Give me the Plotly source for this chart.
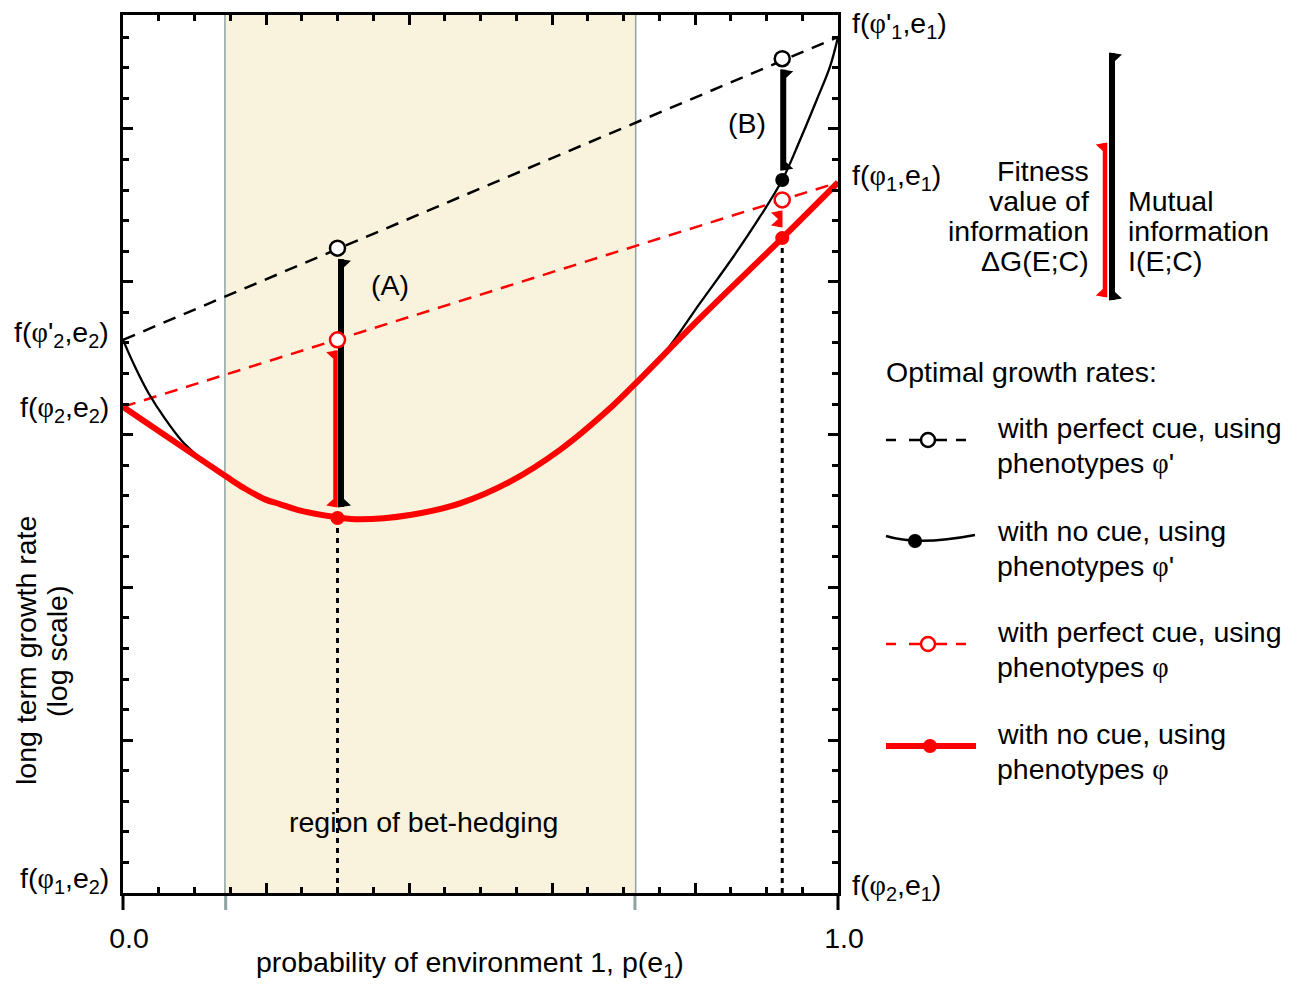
import plotly.graph_objects as go

# The page body has an 8 px margin, so the figure is drawn 8 px in from the window corner.
OFF = 8
WIN_W, WIN_H = 1299, 989
FIG_W, FIG_H = WIN_W - 2 * OFF, WIN_H - 2 * OFF
FONT = "Liberation Sans"
FS = 28.5
RED = "#ff0000"
BLACK = "#000000"
SHADE = "#f9f2dc"
GREY = "#8fa3a3"
PHI = "<span style=\"font-family:Liberation Serif\">φ</span>"

# ---------------- data ----------------
# optimal growth, no cue, phenotypes φ (thick red)
p_nocue_phi = [0.0, 0.0587, 0.1448, 0.17, 0.1986, 0.22, 0.2452, 0.3011, 0.3315, 0.4014, 0.4713,
               0.5413, 0.6112, 0.6811, 0.7137, 0.807, 0.922, 1.0]
g_nocue_phi = [15.91, 14.98, 13.62, 13.24, 12.88, 12.72, 12.53, 12.29, 12.23, 12.37, 12.75,
               13.46, 14.50, 15.86, 16.60, 18.81, 21.43, 23.25]
# optimal growth, no cue, phenotypes φ' (thin black)
p_nocue_phiprime = [0.0, 0.0168, 0.0354, 0.0587, 0.0821, 0.1007, 0.1217, 0.1448, 0.17, 0.1986,
                    0.22, 0.2452, 0.3011, 0.3315, 0.4014, 0.4713, 0.5413, 0.6112, 0.6811,
                    0.7137, 0.7604, 0.8070, 0.8536, 0.8909, 0.922, 0.9469, 0.9702,
                    0.9888, 1.0]
g_nocue_phiprime = [18.10, 17.22, 16.37, 15.52, 14.80, 14.38, 13.97, 13.62, 13.24, 12.88,
                    12.72, 12.53, 12.29, 12.23, 12.37, 12.75, 13.46, 14.50, 15.86,
                    16.60, 17.77, 19.30, 20.82, 22.13, 23.33, 24.64, 25.95,
                    27.04, 28.01]
# perfect cue (straight dashed lines)
p_cue = [0.0, 1.0]
g_cue_phiprime = [18.10, 28.01]
g_cue_phi = [15.91, 23.25]
# worked examples (A) and (B)
ex_names = ["(A)", "(B)"]
p_examples = [0.30, 0.922]
ex_cue_phiprime = [21.10, 27.30]
ex_cue_phi = [18.10, 22.68]
ex_nocue_phiprime = [12.27, 23.33]
ex_nocue_phi = [12.27, 21.43]
# region of bet-hedging
bethedge_range = [0.1436, 0.716]
y_range = [0.0, 28.73]
x_major_ticks = [0.0, 0.2, 0.4, 0.6, 0.8, 1.0]
x_tick_text = ["0.0", " ", " ", " ", " ", "1.0"]
y_major_ticks = [0, 5, 10, 15, 20, 25]
left_labels = [f"f({PHI}'<sub>2</sub>,e<sub>2</sub>)", f"f({PHI}<sub>2</sub>,e<sub>2</sub>)",
               f"f({PHI}<sub>1</sub>,e<sub>2</sub>)"]
left_values = [g_cue_phiprime[0], g_cue_phi[0], 0.0]
right_labels = [f"f({PHI}'<sub>1</sub>,e<sub>1</sub>)", f"f({PHI}<sub>1</sub>,e<sub>1</sub>)",
                f"f({PHI}<sub>2</sub>,e<sub>1</sub>)"]
right_values = [g_cue_phiprime[1], g_cue_phi[1], 0.0]


# ---------------- layout geometry (window pixels -> figure fractions) ----------------
def P(px, py):
    return (px - OFF) / FIG_W, 1 - (py - OFF) / FIG_H


XDOM = [P(123, 0)[0], P(838, 0)[0]]
YDOM = [P(0, 893)[1], P(0, 15)[1]]
PLOT_H = (YDOM[1] - YDOM[0]) * FIG_H
Y_PER_PX = (y_range[1] - y_range[0]) / PLOT_H

fig = go.Figure()

# traces
fig.add_trace(go.Scatter(x=p_cue, y=g_cue_phiprime, mode="lines",
                         line=dict(color=BLACK, width=2.5, dash="13px,9px"), name="cue φ'"))
fig.add_trace(go.Scatter(x=p_cue, y=g_cue_phi, mode="lines",
                         line=dict(color=RED, width=2.5, dash="13px,9px"), name="cue φ"))
fig.add_trace(go.Scatter(x=p_nocue_phiprime, y=g_nocue_phiprime, mode="lines",
                         line=dict(color=BLACK, width=2.3, shape="spline", smoothing=1.0),
                         name="no cue φ'"))
fig.add_trace(go.Scatter(x=p_nocue_phi, y=g_nocue_phi, mode="lines",
                         line=dict(color=RED, width=6, shape="spline", smoothing=1.0),
                         name="no cue φ"))
# markers
fig.add_trace(go.Scatter(x=p_examples, y=ex_cue_phiprime, mode="markers",
                         marker=dict(symbol="circle", size=15, color="white",
                                     line=dict(color=BLACK, width=2.5)), cliponaxis=False))
fig.add_trace(go.Scatter(x=p_examples, y=ex_cue_phi, mode="markers",
                         marker=dict(symbol="circle", size=15, color="white",
                                     line=dict(color=RED, width=2.5)), cliponaxis=False))
fig.add_trace(go.Scatter(x=p_examples[1:], y=ex_nocue_phiprime[1:], mode="markers",
                         marker=dict(symbol="circle", size=14, color=BLACK), cliponaxis=False))
fig.add_trace(go.Scatter(x=p_examples, y=ex_nocue_phi, mode="markers",
                         marker=dict(symbol="circle", size=14, color=RED), cliponaxis=False))

shapes = []
# shading of bet-hedging region
shapes.append(dict(type="rect", xref="x", yref="y", x0=bethedge_range[0], x1=bethedge_range[1],
                   y0=y_range[0], y1=y_range[1], fillcolor=SHADE, line_width=0, layer="below"))
EXT = 17 / PLOT_H
for xb in bethedge_range:
    shapes.append(dict(type="line", xref="x", yref="y domain", x0=xb, x1=xb, y0=-EXT, y1=1,
                       line=dict(color=GREY, width=3), layer="below"))
# axis extensions below the bottom axis
for xd in [0, 1]:
    shapes.append(dict(type="line", xref="x domain", yref="y domain", x0=xd, x1=xd, y0=-EXT, y1=0,
                       line=dict(color=BLACK, width=3)))
# dotted drop lines from the no-cue φ optimum
for p, g in zip(p_examples, ex_nocue_phi):
    shapes.append(dict(type="line", xref="x", yref="y", x0=p, x1=p, y0=y_range[0],
                       y1=g - 10 * Y_PER_PX, line=dict(color=BLACK, width=3, dash="5px,5px"),
                       layer="below"))


def bar_with_barbs(xref, yref, xa, ytop, ybot, xoff, width, color, side):
    """vertical bar from ytop to ybot, with half arrow heads on `side` (+1 right, -1 left)"""
    out = [dict(type="line", xref=xref, yref=yref, xsizemode="pixel", xanchor=xa,
                x0=xoff, x1=xoff, y0=ytop, y1=ybot, line=dict(color=color, width=width),
                layer="below")]
    hw = width / 2
    s = side
    for yanc, d in [(ytop, -1), (ybot, 1)]:
        pts = [(xoff - s * hw, 0.5 * d), (xoff + s * (hw + 7), -1.5 * d), (xoff + s * hw, -8 * d)]
        pts = [(x, -y) for x, y in pts]  # pixel mode: positive y is up
        path = "M {},{} L {},{} L {},{} Z".format(*[v for pt in pts for v in pt])
        out.append(dict(type="path", xref=xref, yref=yref, xsizemode="pixel", ysizemode="pixel",
                        xanchor=xa, yanchor=yanc, path=path, fillcolor=color, line_width=0,
                        layer="below"))
    return out


GAP = 11 * Y_PER_PX
xoffs = [(3.5, -2.0), (1.0, -2.0)]
for i, p in enumerate(p_examples):
    ob, orr = xoffs[i]
    shapes += bar_with_barbs("x", "y", p, ex_cue_phiprime[i] - GAP,
                             ex_nocue_phiprime[i] + (GAP if i == 0 else GAP * 0.9),
                             ob, 6, BLACK, +1)
    shapes += bar_with_barbs("x", "y", p, ex_cue_phi[i] - GAP, ex_nocue_phi[i] + GAP,
                             orr, 4.5, RED, -1)

# key bar (top right)
shapes += bar_with_barbs("paper", "paper", P(1112, 0)[0], P(0, 53)[1], P(0, 300)[1], 0, 6, BLACK, +1)
shapes += bar_with_barbs("paper", "paper", P(1105, 0)[0], P(0, 143)[1], P(0, 297)[1], 0, 4.5, RED, -1)


# legend samples
def seg(x0, x1, y, color, width):
    a, b = P(x0, y), P(x1, y)
    return dict(type="line", xref="paper", yref="paper", x0=a[0], y0=a[1], x1=b[0], y1=b[1],
                line=dict(color=color, width=width))


def circ(px, py, r, fill, color, lw):
    x, y = P(px, py)
    return dict(type="circle", xref="paper", yref="paper", xsizemode="pixel", ysizemode="pixel",
                xanchor=x, yanchor=y, x0=-r, x1=r, y0=-r, y1=r, fillcolor=fill,
                line=dict(color=color, width=lw))


for y, col in [(440, BLACK), (644, RED)]:
    shapes += [seg(886, 896, y, col, 2.5), seg(909, 947, y, col, 2.5), seg(956, 966, y, col, 2.5)]
    shapes.append(circ(928, y, 7, "white", col, 2.5))
a, c, b = P(886, 536), P(918, 546), P(975, 535)
shapes.append(dict(type="path", xref="paper", yref="paper",
                   path=f"M {a[0]},{a[1]} Q {c[0]},{c[1]} {b[0]},{b[1]}",
                   line=dict(color=BLACK, width=2.5)))
shapes.append(circ(915, 541, 7, BLACK, BLACK, 0.1))
shapes.append(seg(886, 976, 746, RED, 6))
shapes.append(circ(930, 746, 7, RED, RED, 0.1))

annotations = []


def ann(text, x, y, xref="paper", yref="paper", xanchor="center", yanchor="middle", **kw):
    d = dict(text=text, x=x, y=y, xref=xref, yref=yref, xanchor=xanchor, yanchor=yanchor,
             showarrow=False, font=dict(family=FONT, size=FS, color="black"))
    d.update(kw)
    return d


# axis end labels
for t, v, ys in zip(left_labels, left_values, [6, -2, 13]):
    annotations.append(ann(t, 0, v, xref="x", yref="y", xanchor="right", xshift=-12, yshift=ys))
for t, v, ys in zip(right_labels, right_values, [12, 5, 6]):
    annotations.append(ann(t, 1, v, xref="x", yref="y", xanchor="left", xshift=12, yshift=ys))

# example labels
annotations.append(ann(ex_names[0], 0.373, 19.9, xref="x", yref="y"))
annotations.append(ann(ex_names[1], 0.873, 25.2, xref="x", yref="y"))
annotations.append(ann("region of bet-hedging", 0.42, 2.32, xref="x", yref="y"))

# axis titles
annotations.append(ann("long term growth rate", *P(26, 651), textangle=-90))
annotations.append(ann("(log scale)", *P(57, 651), textangle=-90))
annotations.append(ann("probability of environment 1, p(e<sub>1</sub>)", *P(470, 964)))

# key text
for t, py in zip(["Fitness", "value of", "information", "ΔG(E;C)"], [171, 201, 231, 261]):
    annotations.append(ann(t, *P(1091, py), xanchor="right"))
for t, py in zip(["Mutual", "information", "I(E;C)"], [201, 231, 261]):
    annotations.append(ann(t, *P(1126, py), xanchor="left"))

# legend text
annotations.append(ann("Optimal growth rates:", *P(884, 372), xanchor="left"))
leg_lines = [("with perfect cue, using", f"phenotypes {PHI}'"),
             ("with no cue, using", f"phenotypes {PHI}'"),
             ("with perfect cue, using", f"phenotypes {PHI}"),
             ("with no cue, using", f"phenotypes {PHI}")]
for (l1, l2), py in zip(leg_lines, [428, 531, 632, 734]):
    annotations.append(ann(l1, *P(995, py), xanchor="left"))
    annotations.append(ann(l2, *P(995, py + 35), xanchor="left"))

tick_common = dict(ticks="inside", tickwidth=2.5, tickcolor=BLACK)
fig.update_layout(
    template="none",
    width=FIG_W, height=FIG_H,
    margin=dict(l=0, r=0, t=0, b=0),
    plot_bgcolor="white", paper_bgcolor="white", showlegend=False,
    font=dict(family=FONT, size=FS, color="black"),
    xaxis=dict(domain=XDOM, range=[0, 1], showline=True, linewidth=3, linecolor=BLACK,
               mirror="ticks", ticklen=10, tickmode="array", tickvals=x_major_ticks,
               ticktext=x_tick_text, showgrid=False, zeroline=False, automargin=False,
               ticklabelshift=6, ticklabelstandoff=18,
               minor=dict(tickmode="linear", tick0=0, dtick=0.05, ticklen=6, showgrid=False,
                          **tick_common),
               **tick_common),
    yaxis=dict(domain=YDOM, range=y_range, showline=True, linewidth=3, linecolor=BLACK,
               mirror="ticks", ticklen=10, tickmode="array", tickvals=y_major_ticks,
               showticklabels=False, showgrid=False, zeroline=False, automargin=False,
               minor=dict(tickmode="linear", tick0=0, dtick=1, ticklen=6, showgrid=False,
                          **tick_common),
               **tick_common),
    shapes=shapes,
    annotations=annotations,
)

fig.write_html("out.html")
